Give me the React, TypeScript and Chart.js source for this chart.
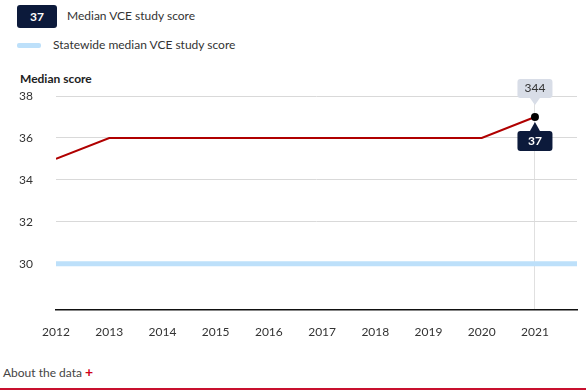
import React, { useEffect, useRef } from "react";
import { Chart, registerables } from "chart.js";

Chart.register(...registerables);

const years = [2012, 2013, 2014, 2015, 2016, 2017, 2018, 2019, 2020, 2021];
const medianScores = [35, 36, 36, 36, 36, 36, 36, 36, 36, 37];
const statewideScores = [30, 30, 30, 30, 30, 30, 30, 30, 30, 30];
const yTicks = [30, 32, 34, 36, 38];
const highlightTopLabel = "344";

const FONT = "Lato, 'Noto Sans', sans-serif";
const NAVY = "#0c1a3b";
const RED = "#b00000";
const BLUE = "#bde0fa";

const calloutPlugin = {
  id: "callout",
  afterDatasetsDraw(chart: any) {
    const meta = chart.getDatasetMeta(0);
    const last = meta.data[meta.data.length - 1];
    if (!last) return;
    const { x, y } = last.getProps(["x", "y"], true);
    const ctx = chart.ctx;
    const w = 35;
    ctx.save();
    // top box
    ctx.fillStyle = "#d8dde7";
    const tb = y - 19;
    roundRect(ctx, x - w / 2, tb - 19, w, 19, 3);
    ctx.fill();
    ctx.beginPath();
    ctx.moveTo(x - 5, tb);
    ctx.lineTo(x + 5, tb);
    ctx.lineTo(x, y - 12);
    ctx.closePath();
    ctx.fill();
    ctx.fillStyle = "#333";
    ctx.font = `12px ${FONT}`;
    ctx.textAlign = "center";
    ctx.textBaseline = "middle";
    ctx.fillText(highlightTopLabel, x, tb - 9.5);
    // bottom box
    ctx.fillStyle = NAVY;
    const bt = y + 14;
    roundRect(ctx, x - w / 2, bt, w, 20, 3);
    ctx.fill();
    ctx.beginPath();
    ctx.moveTo(x - 5, bt);
    ctx.lineTo(x + 5, bt);
    ctx.lineTo(x, y + 5);
    ctx.closePath();
    ctx.fill();
    ctx.fillStyle = "#fff";
    ctx.font = `bold 12px ${FONT}`;
    ctx.fillText(String(medianScores[medianScores.length - 1]), x, bt + 10);
    ctx.restore();
  },
};

function roundRect(ctx: CanvasRenderingContext2D, x: number, y: number, w: number, h: number, r: number) {
  ctx.beginPath();
  ctx.moveTo(x + r, y);
  ctx.lineTo(x + w - r, y);
  ctx.quadraticCurveTo(x + w, y, x + w, y + r);
  ctx.lineTo(x + w, y + h - r);
  ctx.quadraticCurveTo(x + w, y + h, x + w - r, y + h);
  ctx.lineTo(x + r, y + h);
  ctx.quadraticCurveTo(x, y + h, x, y + h - r);
  ctx.lineTo(x, y + r);
  ctx.quadraticCurveTo(x, y, x + r, y);
  ctx.closePath();
}

export default function App() {
  const ref = useRef<HTMLCanvasElement>(null);
  useEffect(() => {
    if (!ref.current) return;
    const lastYear = years[years.length - 1];
    const chart = new Chart(ref.current, {
      type: "line",
      data: {
        datasets: [
          {
            data: years.map((yr, i) => ({ x: yr, y: medianScores[i] })),
            borderColor: RED,
            borderWidth: 2,
            pointRadius: (c: any) => (c.dataIndex === years.length - 1 ? 4 : 0),
            pointBackgroundColor: "#000",
            pointBorderColor: "#000",
            pointBorderWidth: 0,
            tension: 0,
          },
          {
            data: [
              ...years.map((yr, i) => ({ x: yr, y: statewideScores[i] })),
              { x: lastYear + 1, y: statewideScores[statewideScores.length - 1] },
            ],
            borderColor: BLUE,
            borderWidth: 5,
            pointRadius: 0,
            tension: 0,
          },
        ],
      },
      options: {
        animation: false,
        responsive: false,
        maintainAspectRatio: false,
        layout: { padding: { left: 19, right: 9, top: 36, bottom: 0 } },
        plugins: { legend: { display: false }, tooltip: { enabled: false } },
        scales: {
          x: {
            type: "linear",
            min: years[0],
            max: lastYear + 0.79,
            afterBuildTicks: (s: any) => {
              s.ticks = years.map((v) => ({ value: v }));
            },
            afterFit: (s: any) => {
              s.height = 40;
            },
            ticks: {
              callback: (v: any) => String(v),
              color: "#333",
              font: { family: FONT, size: 12 },
              padding: 15,
              maxRotation: 0,
            },
            grid: {
              drawTicks: false,
              color: (c: any) => (c.tick && c.tick.value === lastYear ? "#e0e0e0" : "rgba(0,0,0,0)"),
            },
            border: { display: true, color: "#111", width: 1.5 },
          },
          y: {
            min: 27.8,
            max: 38,
            afterBuildTicks: (s: any) => {
              s.ticks = yTicks.map((v) => ({ value: v }));
            },
            afterFit: (s: any) => {
              s.width = 37;
            },
            ticks: {
              color: "#333",
              font: { family: FONT, size: 12 },
              crossAlign: "far",
              padding: 4,
            },
            grid: { drawTicks: false, color: "#d9d9d9" },
            border: { display: false },
          },
        },
      },
      plugins: [calloutPlugin],
    } as any);
    return () => chart.destroy();
  }, []);

  const text: React.CSSProperties = { position: "absolute", fontFamily: FONT, fontSize: 12, color: "#333", lineHeight: "14px" };

  return (
    <div style={{ position: "absolute", left: 0, top: 0, width: 586, height: 391, overflow: "hidden", background: "#fff" }}>
      <div
        style={{
          position: "absolute",
          left: 17,
          top: 5,
          width: 40,
          height: 23,
          background: NAVY,
          borderRadius: 3,
          color: "#fff",
          fontFamily: FONT,
          fontWeight: 700,
          fontSize: 12,
          lineHeight: "23px",
          textAlign: "center",
        }}
      >
        {medianScores[medianScores.length - 1]}
      </div>
      <div style={{ ...text, left: 67, top: 9 }}>Median VCE study score</div>
      <div style={{ position: "absolute", left: 17, top: 43, width: 24, height: 5, background: BLUE, borderRadius: 2 }} />
      <div style={{ ...text, left: 53, top: 38 }}>Statewide median VCE study score</div>
      <div style={{ ...text, left: 20, top: 72, fontWeight: 700, color: "#222" }}>Median score</div>
      <canvas ref={ref} width={586} height={290} style={{ position: "absolute", left: 0, top: 60, width: 586, height: 290 }} />
      <div style={{ ...text, left: 3, top: 365, color: "#444" }}>
        About the data <span style={{ color: "#d0021b", fontWeight: 700, fontSize: 14 }}>+</span>
      </div>
      <div style={{ position: "absolute", left: 0, top: 388, width: 586, height: 1.5, background: "#c8102e" }} />
    </div>
  );
}
